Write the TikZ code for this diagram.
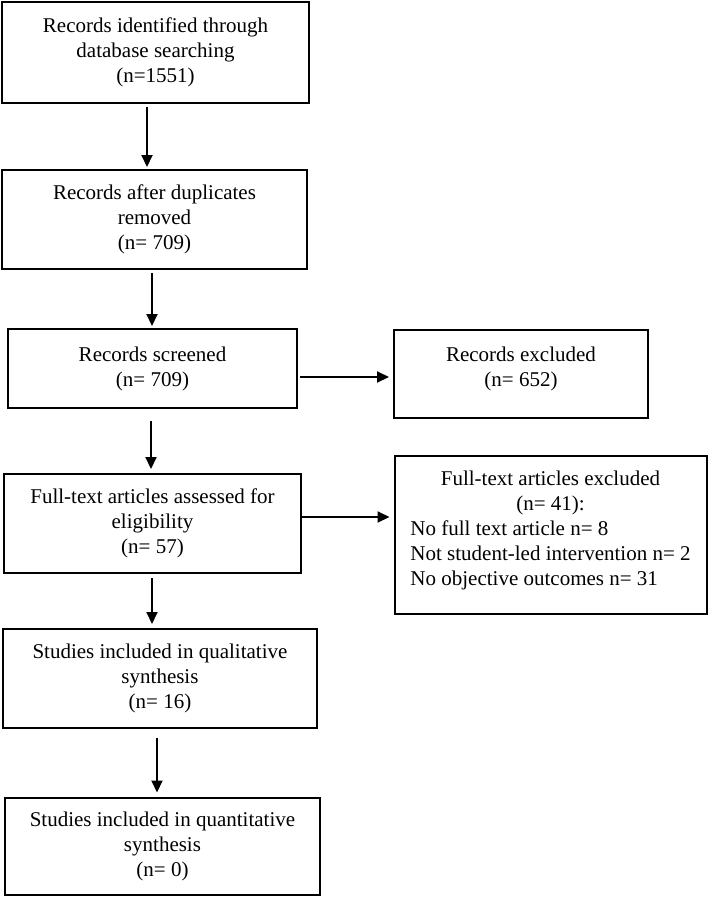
\documentclass[tikz,border=0pt]{standalone}
\usepackage{fontspec}
\setmainfont{Liberation Serif}
\usetikzlibrary{arrows.meta}
\begin{document}
\begin{tikzpicture}[x=1pt,y=-1pt,
  box/.style={draw, line width=2pt, inner sep=0pt, align=center, font=\fontsize{21}{25}\selectfont},
  arr/.style={line width=2pt, -{Triangle[length=12pt,width=11pt]}}]
\useasboundingbox (0,0) rectangle (709,897);
\node[box, minimum width=307pt, minimum height=101pt] (b1) at (155.5,52) {Records identified through\\database searching\\(n=1551)};
\node[box, minimum width=305pt, minimum height=99pt] (b2) at (154.5,219.5) {Records after duplicates\\removed\\(n= 709)};
\node[box, minimum width=289pt, minimum height=79pt] (b3) at (152.5,368.5) {Records screened\\(n= 709)};
\node[box, minimum width=254pt, minimum height=88pt] (e1) at (521,374) {\begin{tabular}{@{}c@{}}Records excluded\\(n= 652)\\[10pt]\end{tabular}};
\node[box, minimum width=312pt, minimum height=158pt] (e2) at (550.5,535) {\begin{tabular}{@{}l@{}}\multicolumn{1}{c}{Full-text articles excluded}\\\multicolumn{1}{c}{(n= 41):}\\No full text article n= 8\\Not student-led intervention n= 2\\No objective outcomes n= 31\\[10pt]\end{tabular}};
\node[box, minimum width=297pt, minimum height=99pt] (b4) at (152.5,523.5) {Full-text articles assessed for\\eligibility\\(n= 57)};
\node[box, minimum width=314pt, minimum height=99pt] (b5) at (160,678.5) {Studies included in qualitative\\synthesis\\(n= 16)};
\node[box, minimum width=315pt, minimum height=97pt] (b6) at (162.5,846) {Studies included in quantitative\\synthesis\\(n= 0)};
\draw[arr] ([xshift=-8.5pt,yshift=-3pt]b1.south) -- ([xshift=-7.5pt,yshift=2pt]b2.north);
\draw[arr] ([xshift=-2.5pt,yshift=-3pt]b2.south) -- ([xshift=-0.5pt,yshift=2pt]b3.north);
\draw[arr] ([xshift=2pt,yshift=-8.5pt]b3.east) -- ([xshift=-4pt,yshift=-3pt]e1.west);
\draw[arr] ([xshift=-1.5pt,yshift=-12pt]b3.south) -- ([xshift=-1.5pt,yshift=4pt]b4.north);
\draw[arr] ([xshift=-2pt,yshift=6.5pt]b4.east) -- ([xshift=-4pt,yshift=18pt]e2.west);
\draw[arr] ([xshift=-0.5pt,yshift=-4pt]b4.south) -- ([xshift=-8pt,yshift=4pt]b5.north);
\draw[arr] ([xshift=-3pt,yshift=-9pt]b5.south) -- ([xshift=-5.5pt,yshift=4pt]b6.north);
\end{tikzpicture}
\end{document}
